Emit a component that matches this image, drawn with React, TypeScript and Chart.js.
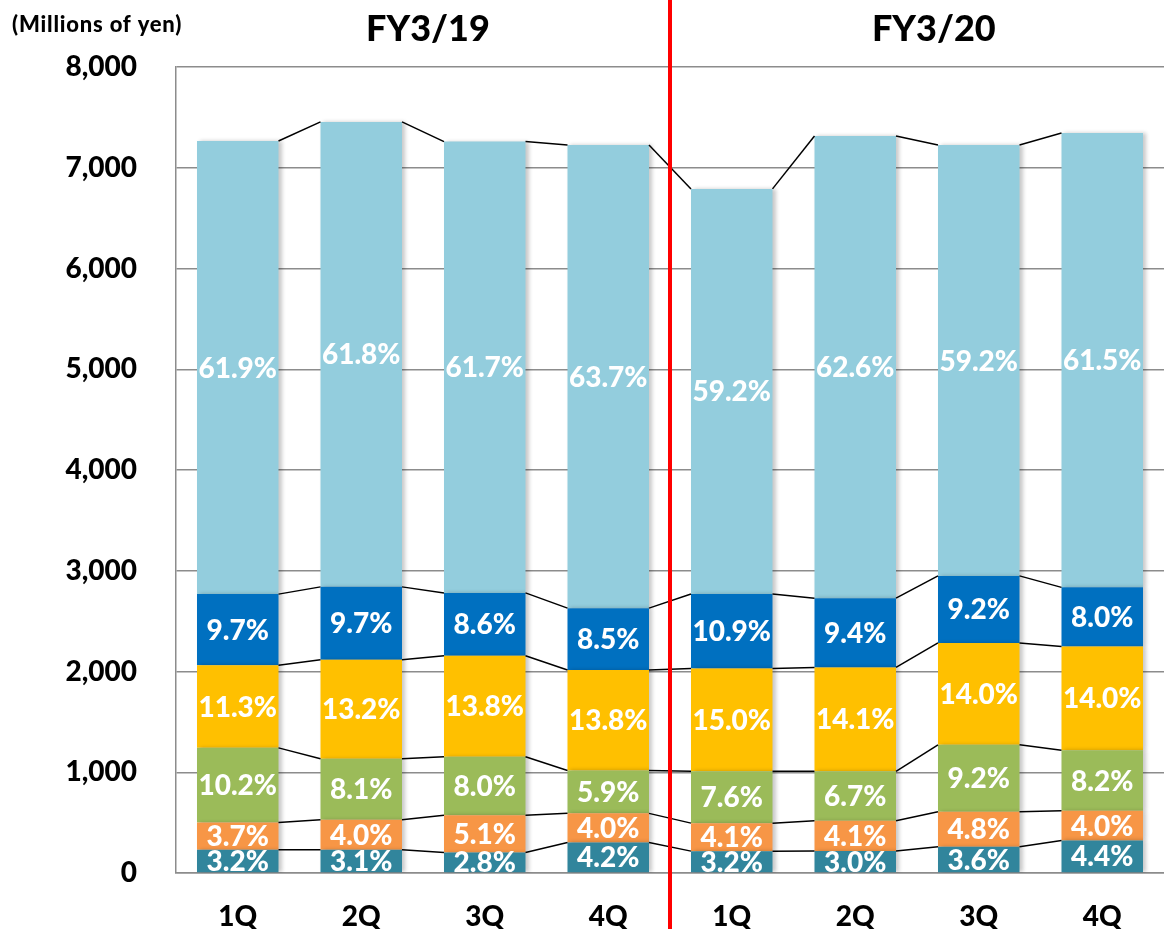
import React, { useEffect, useRef } from 'react';
import { Chart, registerables } from 'chart.js';

Chart.register(...registerables);

const categories = ['1Q', '2Q', '3Q', '4Q', '1Q', '2Q', '3Q', '4Q'];
const fiscalYears = ['FY3/19', 'FY3/20'];
const unitLabel = '(Millions of yen)';
const yTicks = [0, 1000, 2000, 3000, 4000, 5000, 6000, 7000, 8000];

// segment values (millions of yen), bottom to top
const teal = [232, 231, 203, 303, 217, 219, 260, 323];
const orange = [269, 298, 370, 289, 278, 300, 347, 294];
const green = [741, 604, 581, 426, 516, 490, 665, 602];
const yellow = [821, 984, 1002, 997, 1019, 1031, 1012, 1028];
const blue = [705, 723, 624, 614, 740, 688, 665, 588];
const lightBlue = [4497, 4615, 4480, 4596, 4020, 4587, 4276, 4510];

// share labels
const tealPct = ['3.2%', '3.1%', '2.8%', '4.2%', '3.2%', '3.0%', '3.6%', '4.4%'];
const orangePct = ['3.7%', '4.0%', '5.1%', '4.0%', '4.1%', '4.1%', '4.8%', '4.0%'];
const greenPct = ['10.2%', '8.1%', '8.0%', '5.9%', '7.6%', '6.7%', '9.2%', '8.2%'];
const yellowPct = ['11.3%', '13.2%', '13.8%', '13.8%', '15.0%', '14.1%', '14.0%', '14.0%'];
const bluePct = ['9.7%', '9.7%', '8.6%', '8.5%', '10.9%', '9.4%', '9.2%', '8.0%'];
const lightBluePct = ['61.9%', '61.8%', '61.7%', '63.7%', '59.2%', '62.6%', '59.2%', '61.5%'];

const seriesValues = [teal, orange, green, yellow, blue, lightBlue];
const seriesLabels = [tealPct, orangePct, greenPct, yellowPct, bluePct, lightBluePct];
const seriesColors = ['#31859C', '#F79646', '#9BBB59', '#FFC000', '#0070C0', '#93CDDD'];

const FONT = 'Lato, "Open Sans", sans-serif';

const overlayPlugin = {
  id: 'overlay',
  beforeDatasetsDraw(chart: any) {
    const ctx = chart.ctx;
    ctx.save();
    ctx.shadowColor = 'rgba(0,0,0,0.22)';
    ctx.shadowBlur = 4;
    ctx.shadowOffsetX = 3;
    ctx.shadowOffsetY = 0;
  },
  afterDatasetsDraw(chart: any) {
    const ctx = chart.ctx;
    ctx.restore();
    const area = chart.chartArea;
    const xScale = chart.scales.x;

    // connector lines
    ctx.save();
    ctx.strokeStyle = '#000000';
    ctx.lineWidth = 1.5;
    chart.data.datasets.forEach((_: any, d: number) => {
      const meta = chart.getDatasetMeta(d);
      for (let i = 0; i < meta.data.length - 1; i++) {
        const a = meta.data[i].getProps(['x', 'y', 'width'], true);
        const b = meta.data[i + 1].getProps(['x', 'y', 'width'], true);
        ctx.beginPath();
        ctx.moveTo(a.x + a.width / 2, a.y);
        ctx.lineTo(b.x - b.width / 2, b.y);
        ctx.stroke();
      }
    });
    ctx.restore();

    // data labels
    ctx.save();
    ctx.fillStyle = '#FFFFFF';
    ctx.font = `900 28px ${FONT}`;
    ctx.textAlign = 'center';
    ctx.textBaseline = 'middle';
    chart.data.datasets.forEach((_: any, d: number) => {
      const meta = chart.getDatasetMeta(d);
      meta.data.forEach((el: any, i: number) => {
        const p = el.getProps(['x', 'y', 'base'], true);
        ctx.fillText(seriesLabels[d][i], p.x, (p.y + p.base) / 2 + 1);
      });
    });
    ctx.restore();

    // red divider
    ctx.save();
    const xr = (xScale.getPixelForValue(3) + xScale.getPixelForValue(4)) / 2;
    ctx.strokeStyle = '#FF0000';
    ctx.lineWidth = 4;
    ctx.beginPath();
    ctx.moveTo(xr, 0);
    ctx.lineTo(xr, chart.height);
    ctx.stroke();
    ctx.restore();

    // titles
    ctx.save();
    ctx.fillStyle = '#000000';
    ctx.textBaseline = 'middle';
    ctx.textAlign = 'center';
    ctx.font = `900 36px ${FONT}`;
    const w = area.right - area.left;
    ctx.fillText(fiscalYears[0], area.left + w * 0.255, 29);
    ctx.fillText(fiscalYears[1], area.left + w * 0.767, 29);
    ctx.textAlign = 'left';
    ctx.font = `900 22px ${FONT}`;
    try {
      (ctx as any).letterSpacing = '0.8px';
    } catch (e) {}
    ctx.fillText(unitLabel, 12, 25);
    ctx.restore();
  },
};

export default function App() {
  const ref = useRef<HTMLCanvasElement | null>(null);

  useEffect(() => {
    document.body.style.margin = '0';
    const canvas = ref.current;
    if (!canvas) return;
    const chart = new Chart(canvas, {
      type: 'bar',
      data: {
        labels: categories,
        datasets: seriesValues.map((vals, d) => ({
          label: `s${d}`,
          data: vals,
          backgroundColor: seriesColors[d],
          borderWidth: 0,
          barPercentage: 0.66,
          categoryPercentage: 1,
        })),
      },
      options: {
        responsive: false,
        animation: false,
        devicePixelRatio: 1,
        layout: { padding: { top: 67, right: 0, bottom: 0, left: 0 } },
        plugins: { legend: { display: false }, tooltip: { enabled: false }, title: { display: false } },
        scales: {
          x: {
            stacked: true,
            grid: { display: false, drawTicks: false },
            border: { display: true, color: '#8C8C8C', width: 1.5 },
            ticks: {
              color: '#000000',
              font: { family: FONT, size: 28, weight: '900' },
              padding: 27,
              maxRotation: 0,
            },
            afterFit: (s: any) => {
              s.height = 56;
            },
          },
          y: {
            stacked: true,
            min: 0,
            max: 8000,
            afterBuildTicks: (s: any) => {
              s.ticks = yTicks.map((v) => ({ value: v }));
            },
            grid: { color: '#8C8C8C', lineWidth: 1.5, drawTicks: false },
            border: { display: true, color: '#8C8C8C', width: 1.5 },
            ticks: {
              color: '#000000',
              font: { family: FONT, size: 28, weight: '900' },
              padding: 39,
              callback: (v: any) => Number(v).toLocaleString('en-US'),
            },
            afterFit: (s: any) => {
              s.width = 176;
            },
          },
        },
      },
      plugins: [overlayPlugin],
    });
    return () => chart.destroy();
  }, []);

  return (
    <div style={{ position: 'fixed', left: 0, top: 0, width: 1164, height: 929, background: '#fff' }}>
      <canvas ref={ref} width={1164} height={929} style={{ width: 1164, height: 929, display: 'block' }} />
    </div>
  );
}
